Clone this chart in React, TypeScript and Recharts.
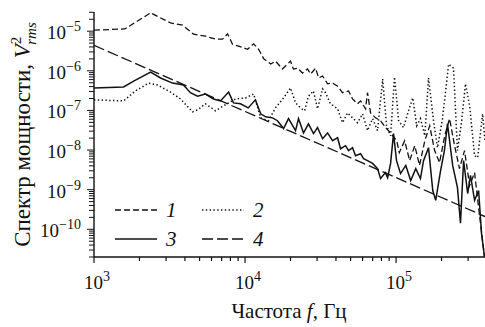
import { LineChart, Line, XAxis, YAxis } from "recharts";

// частота, Гц
const freq1 = [1000, 1600, 2370, 3210, 3860, 4560, 5470, 6380, 7100, 7660, 8260, 9060, 10400, 11400, 12300, 13300, 14800, 15900, 17700, 20000, 20900, 22300, 24000, 25900, 27200, 29300, 30700, 32600, 35200, 38000, 41000, 44200, 48500, 51500, 55600, 58200, 62800, 64700, 67800, 73100, 78900, 85100, 92000, 101000, 105000, 114000, 123000, 133000, 143000, 155000, 167000, 180000, 194000, 210000, 226000, 244000, 263000, 284000, 307000, 331000, 357000, 385000];
const power1 = [1.06e-5, 1.14e-5, 2.9e-5, 1.62e-5, 1.42e-5, 8.4e-6, 7.5e-6, 6.3e-6, 6.3e-6, 8.6e-6, 4.7e-6, 4.2e-6, 3.5e-6, 4.8e-6, 3.5e-6, 2.0e-6, 1.48e-6, 1.76e-6, 1.11e-6, 1.76e-6, 1.11e-6, 1.17e-6, 8.8e-7, 1.11e-6, 8.3e-7, 1.17e-6, 6.6e-7, 7.4e-7, 4.7e-7, 4.9e-7, 4.1e-7, 2.8e-7, 3.1e-7, 1.95e-7, 1.47e-7, 1.74e-7, 1.1e-7, 2.8e-7, 8.7e-8, 6.5e-8, 5.5e-8, 3.7e-8, 2.7e-8, 1.72e-8, 8.6e-9, 1.72e-8, 5.4e-9, 1.29e-8, 4.1e-9, 1.72e-8, 4.1e-8, 9.7e-9, 4.8e-9, 2.3e-8, 6.2e-8, 1.29e-8, 3.4e-9, 9.7e-9, 1.27e-9, 2.7e-9, 2.25e-10, 2.0e-11];

const freq2 = [1000, 1570, 1880, 2300, 2630, 3210, 3740, 4490, 4850, 5470, 6380, 7780, 8650, 10100, 11400, 12700, 14300, 15900, 18000, 20000, 21600, 23300, 24800, 26300, 28400, 30200, 32600, 34100, 36800, 41000, 44200, 47800, 51500, 55600, 60000, 64700, 69900, 75400, 81500, 86500, 92000, 97700, 104000, 112000, 121000, 129000, 137000, 145000, 155000, 164000, 177000, 188000, 203000, 223000, 240000, 255000, 272000, 288000, 307000, 331000, 347000, 374000, 388000];
const power2 = [1.85e-7, 1.74e-7, 3.1e-7, 4.9e-7, 4.4e-7, 2.9e-7, 1.95e-7, 9.2e-8, 1.03e-7, 1.47e-7, 9.8e-8, 1.55e-7, 1.95e-7, 2.07e-7, 2.6e-7, 6.5e-8, 5.5e-8, 1.16e-7, 2.07e-7, 3.7e-7, 1.55e-7, 1.16e-7, 9.8e-8, 2.3e-7, 3.1e-7, 1.1e-7, 3.5e-7, 2.8e-7, 1.47e-7, 1.1e-7, 4.9e-8, 8.7e-8, 6.5e-8, 4.9e-8, 8.2e-8, 3.1e-8, 6.2e-8, 3.1e-8, 6.2e-7, 4.1e-8, 2.3e-8, 7.0e-7, 5.5e-8, 3.7e-8, 9.8e-8, 2.07e-7, 4.1e-8, 6.2e-8, 2.3e-8, 6.6e-7, 5.5e-8, 1.15e-8, 6.2e-8, 1.48e-6, 1.17e-6, 9.7e-9, 5.5e-8, 4.7e-7, 1.31e-7, 7.2e-9, 6.4e-9, 8.2e-8, 1.72e-8];

const freq3 = [1000, 1570, 1830, 2370, 2760, 3310, 3910, 4350, 4850, 5470, 6180, 6880, 7780, 8390, 9330, 10500, 11700, 12700, 13700, 15200, 16400, 18000, 19400, 21600, 22600, 24400, 26300, 28400, 30200, 32600, 35200, 38000, 41000, 42900, 46300, 48500, 51500, 53900, 58200, 60900, 64700, 69900, 75400, 78900, 85100, 87900, 92000, 96200, 100700, 107000, 116000, 125000, 135000, 145000, 152000, 164000, 175000, 183000, 197000, 209000, 219000, 237000, 255000, 267000, 280000, 298000, 311000, 331000, 352000, 368000, 385000];
const power3 = [3.7e-7, 3.9e-7, 5.5e-7, 9.3e-7, 6.6e-7, 4.9e-7, 4.4e-7, 2.8e-7, 2.3e-7, 2.6e-7, 1.95e-7, 1.74e-7, 2.9e-7, 1.55e-7, 1.47e-7, 1.16e-7, 1.85e-7, 8.2e-8, 6.9e-8, 6.5e-8, 5.5e-8, 3.5e-8, 6.2e-8, 3.1e-8, 6.2e-8, 2.7e-8, 4.6e-8, 2.6e-8, 3.7e-8, 1.93e-8, 2.7e-8, 1.72e-8, 2.05e-8, 1.08e-8, 1.29e-8, 9.7e-9, 1.15e-8, 7.2e-9, 8.1e-9, 6.1e-9, 5.4e-9, 4.6e-9, 3.4e-9, 1.91e-9, 2.7e-9, 2.0e-9, 4.6e-9, 2.6e-8, 5.4e-9, 2.55e-9, 4.1e-9, 1.7e-9, 3.4e-9, 1.91e-9, 5.4e-9, 1.15e-8, 9.5e-10, 5.4e-10, 3.0e-9, 9.7e-9, 4.6e-8, 4.1e-9, 1.13e-9, 1.42e-10, 5.4e-9, 8.0e-10, 2.3e-9, 5.4e-10, 9.5e-10, 7.9e-11, 2.0e-11];

// аппроксимация f^(-5/3)
const freq4 = [1000, 388000];
const power4 = [4.4e-6, 2.1e-10];

const xDecades = [3, 4, 5];
const yDecades = [-11, -10, -9, -8, -7, -6, -5];
const mantissas = [1, 2, 3, 4, 5, 6, 7, 8, 9];

const X_DOMAIN = [1000, 388000];
const Y_DOMAIN = [2e-11, 3.05e-5];

const toRows = (f: number[], v: number[]) => f.map((x, i) => ({ f: x, v: v[i] }));
const series1 = toRows(freq1, power1);
const series2 = toRows(freq2, power2);
const series3 = toRows(freq3, power3);
const series4 = toRows(freq4, power4);

const makeTicks = (decades: number[], lo: number, hi: number) => {
  const out: number[] = [];
  decades.forEach((e) => mantissas.forEach((m) => {
    const t = Number(`${m}e${e}`);
    if (t >= lo * 0.999 && t <= hi * 1.001) out.push(t);
  }));
  return out;
};
const xTicks = makeTicks(xDecades, X_DOMAIN[0], X_DOMAIN[1]);
const yTicks = makeTicks(yDecades, Y_DOMAIN[0], Y_DOMAIN[1]);

const FONT = '"Liberation Serif", "Times New Roman", Times, Tinos, "Noto Serif", "DejaVu Serif", FreeSerif, serif';
const INK = "#111";

const isDecade = (v: number) => {
  const e = Math.round(Math.log10(v));
  return Math.abs(v / Math.pow(10, e) - 1) < 1e-6 ? e : null;
};

const XTick = (props: any) => {
  const { x, y, payload } = props;
  const e = isDecade(payload.value);
  return (
    <g>
      <line x1={x} x2={x} y1={y} y2={y + (e !== null ? 6 : 4)} stroke={INK} strokeWidth={1.2} />
      {e !== null && (
        <text x={x - 10} y={y + 32} fontFamily={FONT} fontSize={19} fill={INK}>
          <tspan>10</tspan>
          <tspan dy={-8} fontSize={14}>{e}</tspan>
        </text>
      )}
    </g>
  );
};

const YTick = (props: any) => {
  const { x, y, payload } = props;
  const e = isDecade(payload.value);
  return (
    <g>
      <line x1={x} x2={x - (e !== null ? 7 : 5)} y1={y} y2={y} stroke={INK} strokeWidth={1} />
      {e !== null && (
        <text x={x - 13} y={y + 8} textAnchor="end" fontFamily={FONT} fontSize={19} fill={INK}>
          <tspan>10</tspan>
          <tspan dy={-8} fontSize={14}>{`\u2212${-e}`}</tspan>
        </text>
      )}
    </g>
  );
};

const styles = [
  { key: "1", data: series1, dash: "6 3", width: 1.3 },
  { key: "2", data: series2, dash: "1.4 2.4", width: 1.5 },
  { key: "3", data: series3, dash: undefined, width: 1.5 },
  { key: "4", data: series4, dash: "11 4", width: 1.3 },
];

const legendRows = [
  [styles[0], styles[1]],
  [styles[2], styles[3]],
];

export default function App() {
  return (
    <div style={{ position: "absolute", left: 0, top: 0, width: 485, height: 327, background: "#fff", fontFamily: FONT }}>
      <LineChart width={485} height={327} margin={{ top: 12, right: 0, bottom: 0, left: 0 }}>
        <XAxis
          type="number"
          dataKey="f"
          scale="log"
          domain={X_DOMAIN}
          allowDataOverflow
          ticks={xTicks}
          interval={0}
          tick={<XTick />}
          tickLine={false}
          tickSize={0}
          tickMargin={0}
          height={70}
          axisLine={{ stroke: INK, strokeWidth: 1.4 }}
        />
        <YAxis
          type="number"
          scale="log"
          domain={Y_DOMAIN}
          allowDataOverflow
          ticks={yTicks}
          interval={0}
          tick={<YTick />}
          tickLine={false}
          tickSize={0}
          tickMargin={0}
          width={94}
          axisLine={{ stroke: INK, strokeWidth: 1.4 }}
        />
        {styles.map((s) => (
          <Line
            key={s.key}
            data={s.data}
            dataKey="v"
            type="linear"
            stroke={INK}
            strokeWidth={s.width}
            strokeDasharray={s.dash}
            dot={false}
            activeDot={false}
            isAnimationActive={false}
          />
        ))}
      </LineChart>
      <svg width={485} height={327} style={{ position: "absolute", left: 0, top: 0, pointerEvents: "none" }}>
        <text transform="translate(30,134.5) rotate(-90)" textAnchor="middle" fontFamily={FONT} fontSize={23} fill={INK}>
          <tspan>Спектр мощности, </tspan>
          <tspan fontStyle="italic">V</tspan>
          <tspan dy={-9} fontSize={15}>2</tspan>
          <tspan dx={-8} dy={15} fontSize={15} fontStyle="italic">rms</tspan>
        </text>
        <text x={289} y={318} textAnchor="middle" fontFamily={FONT} fontSize={21} fill={INK}>
          <tspan>Частота </tspan>
          <tspan fontStyle="italic">f</tspan>
          <tspan>, Гц</tspan>
        </text>
        {legendRows.map((row, r) =>
          row.map((s, c) => {
            const x0 = 115 + c * 87;
            const y0 = 210 + r * 29;
            return (
              <g key={s.key}>
                <line x1={x0} x2={x0 + 42} y1={y0} y2={y0} stroke={INK} strokeWidth={s.width} strokeDasharray={s.dash} />
                <text x={x0 + 51} y={y0 + 7} fontFamily={FONT} fontSize={21} fontStyle="italic" fill={INK}>
                  {s.key}
                </text>
              </g>
            );
          })
        )}
      </svg>
    </div>
  );
}
